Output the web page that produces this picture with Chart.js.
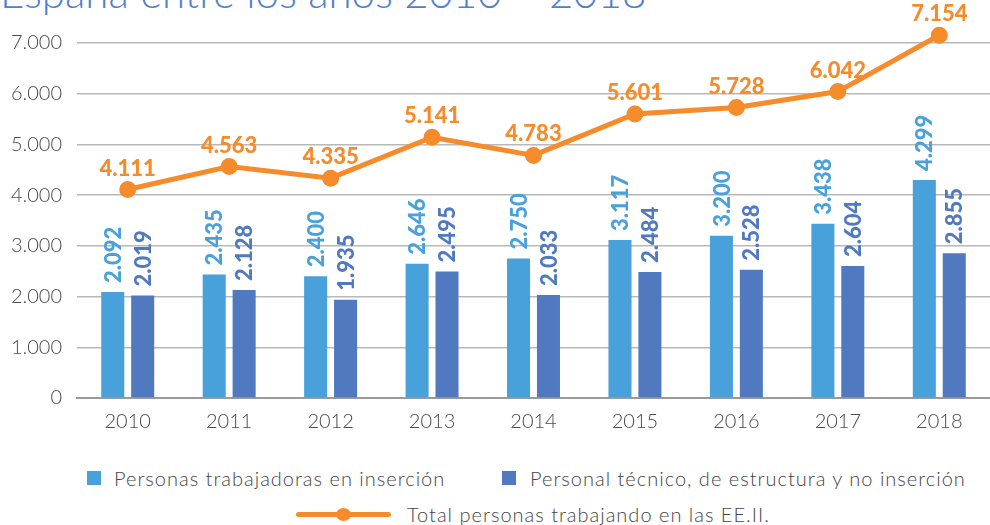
<!DOCTYPE html>
<html>
<head>
<meta charset="utf-8">
<script src="https://cdn.jsdelivr.net/npm/chart.js@4"></script>
<style>
  html, body { margin: 0; padding: 0; background: #fff; }
  body { width: 990px; height: 525px; position: relative; overflow: hidden; font-family: Lato, sans-serif; }
  #title { position: absolute; left: 0; top: -33px; font-size: 42px; color: #4f80cc; white-space: nowrap; font-weight: 300; }
  #wrap { position: absolute; left: 0; top: 0; width: 990px; height: 440px; }
  .legend-row { position: absolute; left: 0; width: 990px; height: 24px; font-size: 20px; color: #444; font-weight: 300; letter-spacing: 1px; }
  .item { position: absolute; top: 0; line-height: 24px; white-space: nowrap; }
  .box { position: absolute; width: 14px; height: 14px; top: 5px; }
</style>
</head>
<body>
<div id="title">España entre los años 2010 – 2018</div>
<div id="wrap"><canvas id="employChart"></canvas></div>

<div class="legend-row" style="top:466px">
  <div class="box" style="left:87px;background:#48a1da"></div>
  <div class="item" style="left:114px">Personas trabajadoras en inserción</div>
  <div class="box" style="left:502px;background:#5079bf"></div>
  <div class="item" style="left:530px">Personal técnico, de estructura y no inserción</div>
</div>
<div class="legend-row" style="top:502px">
  <div style="position:absolute;left:296px;top:10px;width:95px;height:5px;border-radius:3px;background:#f68b2b"></div>
  <div style="position:absolute;left:336px;top:6px;width:15px;height:13px;border-radius:50%;background:#f68b2b"></div>
  <div class="item" style="left:407px">Total personas trabajando en las EE.II.</div>
</div>

<script>
const years = ['2010', '2011', '2012', '2013', '2014', '2015', '2016', '2017', '2018'];
const insercion = [2092, 2435, 2400, 2646, 2750, 3117, 3200, 3438, 4299];
const tecnico = [2019, 2128, 1935, 2495, 2033, 2484, 2528, 2604, 2855];
const total = [4111, 4563, 4335, 5141, 4783, 5601, 5728, 6042, 7154];

const fmt = v => String(v).replace(/\B(?=(\d{3})+(?!\d))/g, '.');

// draws the numbers above bars (rotated) and above line points
const valueLabels = {
    id: 'valueLabels',
    afterDatasetsDraw(chart) {
        const ctx = chart.ctx;
        chart.data.datasets.forEach((ds, i) => {
            const meta = chart.getDatasetMeta(i);
            meta.data.forEach((el, j) => {
                const txt = fmt(ds.data[j]);
                ctx.save();
                ctx.fillStyle = ds.labelColor;
                ctx.font = '900 22px Lato';
                if (ds.type === 'line') {
                    ctx.textAlign = 'center';
                    ctx.textBaseline = 'alphabetic';
                    ctx.fillText(txt, el.x, el.y - 14);
                } else {
                    ctx.translate(el.x + 1, el.y - 9);
                    ctx.rotate(-Math.PI / 2);
                    ctx.textAlign = 'left';
                    ctx.textBaseline = 'middle';
                    ctx.fillText(txt, 0, 0);
                }
                ctx.restore();
            });
        });
    }
};

const ctx = document.getElementById('employChart').getContext('2d');
const employChart = new Chart(ctx, {
    data: {
        labels: years,
        datasets: [
            {
                type: 'line',
                label: 'Total personas trabajando en las EE.II.',
                data: total,
                borderColor: '#f68b2b',
                backgroundColor: '#f68b2b',
                labelColor: '#f68b2b',
                borderWidth: 5,
                pointRadius: 6,
                pointHoverRadius: 6,
                tension: 0,
                clip: false,
                order: 0,
            },
            {
                type: 'bar',
                label: 'Personas trabajadoras en inserción',
                data: insercion,
                backgroundColor: '#48a1da',
                labelColor: '#48a1da',
                barPercentage: 0.77,
                categoryPercentage: 0.59,
                order: 1,
            },
            {
                type: 'bar',
                label: 'Personal técnico, de estructura y no inserción',
                data: tecnico,
                backgroundColor: '#5079bf',
                labelColor: '#5079bf',
                barPercentage: 0.77,
                categoryPercentage: 0.59,
                order: 1,
            }
        ]
    },
    options: {
        responsive: true,
        maintainAspectRatio: false,
        animation: false,
        layout: { autoPadding: false, padding: { top: 43, right: 0, left: 0, bottom: 0 } },
        scales: {
            x: {
                grid: { display: false, drawTicks: false },
                border: { color: '#9a9a9a', width: 2 },
                ticks: { color: '#4a4a4a', font: { family: 'Lato', size: 20, weight: 300 }, padding: 12 },
                afterFit: s => { s.height = 42; }
            },
            y: {
                min: 0,
                max: 7000,
                grid: { color: '#b8b8b8', lineWidth: 1.5, drawTicks: false },
                border: { display: false },
                ticks: {
                    stepSize: 1000,
                    color: '#4a4a4a',
                    padding: 15,
                    font: { family: 'Lato', size: 20, weight: 300 },
                    callback: v => fmt(v)
                },
                afterFit: s => { s.width = 77; }
            }
        },
        plugins: {
            legend: { display: false },
            tooltip: { enabled: false }
        }
    },
    plugins: [valueLabels]
});
</script>
</body>
</html>
